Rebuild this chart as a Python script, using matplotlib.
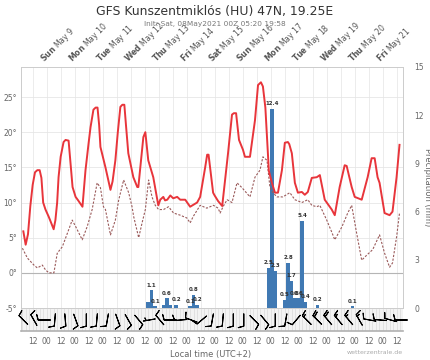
import numpy as np
import matplotlib
matplotlib.use("Agg")
import matplotlib.pyplot as plt
from matplotlib import transforms

# ---------------- data (hours since 2021-05-08 00:00 local, UTC+2) ----------------
temp_hours = [4, 6, 8, 10, 12, 14, 16, 18, 19.5, 21, 23, 25.7, 27.4, 30, 31.5, 33, 34.2, 36, 38.5,
              40.2, 42.8, 44.5, 46.2, 48.8, 51, 54.7, 57.3, 60, 61.6, 64.1, 66, 67.6, 69, 70.1,
              74.4, 78.7, 80.5, 82.9, 85, 87.2, 88.9, 90.6, 92, 94, 98.3, 101.7, 102.6, 106.9,
              108.6, 111.1, 115.4, 119.7, 121.4, 124, 125.5, 127.4, 130, 132.5, 135.9, 138.5,
              142.8, 147, 153, 155.6, 159.9, 161.6, 162.8, 166.7, 168, 171, 174.5, 179.5, 182.9,
              184.5, 186.4, 188.9, 192.3, 194, 198.3, 202.6, 205.2, 207.7, 209.4, 211.5, 213,
              214.5, 217.1, 219.7, 222.3, 225.7, 228.2, 230.8, 232, 234.2, 236.8, 239.4, 242.8,
              245.3, 247.9, 251.3, 255.6, 258.2, 262.4, 268.4, 271, 275.2, 279.5, 281.2, 285.5,
              288.1, 294.1, 299.2, 302.6, 305.2, 307.7, 309.4, 313.7, 318, 320.5, 324, 326.5]
temp_vals = [5.9, 4.0, 5.5, 9.5, 12.5, 14.3, 14.6, 14.6, 13.5, 10.0, 9.0, 8.0, 7.3, 6.2, 7.5, 10.0,
             13.6, 16.5, 18.6, 18.9, 18.8, 15.5, 12.2, 10.8, 10.3, 9.4, 14.6, 18.5, 20.7, 23.2,
             23.5, 23.5, 21.0, 17.9, 15.0, 11.8, 13.0, 16.0, 20.0, 23.6, 23.9, 23.9, 21.0, 17.0,
             13.6, 12.2, 12.2, 19.3, 20.0, 16.0, 13.6, 9.6, 10.4, 10.8, 10.3, 10.4, 11.0, 10.6,
             10.8, 10.4, 10.4, 9.4, 10.0, 10.8, 15.0, 16.8, 16.8, 11.4, 11.0, 10.2, 9.5, 17.0,
             22.5, 22.7, 22.7, 18.9, 17.5, 16.5, 16.5, 21.7, 26.7, 27.1, 26.5, 23.5, 19.0, 14.5,
             12.8, 11.4, 11.4, 14.6, 18.5, 18.6, 18.3, 17.0, 12.8, 11.4, 11.5, 11.1, 11.5, 13.5,
             13.6, 13.9, 10.4, 9.0, 8.2, 12.2, 15.3, 15.2, 12.2, 10.8, 10.4, 13.6, 16.3, 16.3,
             13.6, 12.8, 8.5, 8.2, 8.7, 13.6, 18.2]

dew_hours = [3.2, 7.5, 13.1, 16, 20.3, 23.1, 25.9, 30.2, 33.1, 37.4, 41.7, 45.9, 48.8, 54.5, 58.8,
             63, 67.3, 70.1, 72.7, 74.4, 78.7, 82.9, 85.8, 90, 94.3, 97.2, 98.6, 102.9, 105.8,
             108.6, 111.4, 114.3, 117.1, 120, 124.2, 128.5, 132.8, 138.5, 144.2, 147, 149.6,
             155.6, 161.3, 167, 171, 172.7, 175.2, 178.7, 182.9, 187.2, 191.5, 198.3, 202.6,
             206.9, 209.4, 212.9, 215.4, 218, 221.4, 226.5, 232.5, 236.8, 242.8, 247.9, 251.3,
             255.6, 258.2, 264.1, 268.4, 271, 277, 282.1, 285.5, 289.8, 294.1, 298.3, 303.5,
             309.4, 313.7, 318, 320.5, 324, 326.5]
dew_vals = [3.5, 2.1, 1.1, 0.7, 1.1, 0.4, 0.0, 0.0, 2.8, 3.7, 5.6, 7.5, 6.6, 4.7, 6.6, 9.0, 12.8,
            12.1, 9.4, 9.0, 5.4, 7.5, 10.4, 13.2, 11.4, 9.4, 8.0, 5.0, 7.1, 9.0, 13.2, 10.8, 9.6,
            9.0, 9.0, 9.4, 8.5, 8.2, 7.8, 7.1, 8.0, 9.6, 9.2, 9.6, 9.2, 8.5, 9.4, 10.4, 10.0,
            12.8, 12.1, 10.8, 13.6, 14.6, 16.5, 16.0, 12.2, 11.4, 10.8, 10.8, 11.4, 10.4, 10.0,
            10.4, 9.6, 9.4, 9.6, 7.5, 5.8, 4.7, 6.5, 8.5, 9.6, 5.6, 1.8, 2.5, 3.3, 5.4, 2.8, 0.8,
            1.4, 5.1, 8.5]

precip_hours = [111, 114, 117, 124, 127, 130, 135, 147, 150, 153, 214, 217, 220,
                228, 231, 234, 237, 240, 243, 246, 256, 286]
precip_vals = [0.4, 1.1, 0.1, 0.2, 0.6, 0.2, 0.2, 0.1, 0.8, 0.2, 2.5, 12.4, 2.3,
               0.5, 2.8, 1.7, 0.6, 0.6, 5.4, 0.4, 0.2, 0.1]
precip_labelled = [False, True, True, False, True, False, True, True, True, True, True, True, True,
                   True, True, True, True, True, True, True, True, True]

wind_hours = [4 + 9 * k for k in range(37)]
wind_dir = [315, 330, 270, 185, 175, 160, 180, 185, 190, 160, 150, 140, 260, 320, 270, 265, 290,
            230, 190, 185, 180, 180, 135, 140, 180, 190, 220, 315, 315, 320, 320, 320, 330, 280,
            275, 285, 270]
wind_spd = [10, 10, 10, 10, 10, 10, 10, 10, 10, 10, 10, 10, 5, 10, 10, 10, 10, 10, 10, 10, 10, 10,
            10, 10, 10, 10, 10, 15, 20, 20, 15, 15, 15, 10, 10, 10, 10]

day_hours = [24 * d for d in range(1, 14)]
day_names = ["Sun", "Mon", "Tue", "Wed", "Thu", "Fri", "Sat", "Sun", "Mon", "Tue", "Wed", "Thu", "Fri"]
day_dates = ["May 9", "May 10", "May 11", "May 12", "May 13", "May 14", "May 15", "May 16",
             "May 17", "May 18", "May 19", "May 20", "May 21"]
hour_ticks = [12 * k for k in range(1, 28)]
hour_labels = ["12" if k % 2 == 1 else "00" for k in range(1, 28)]

temp_ticks = [-5, 0, 5, 10, 15, 20, 25]
precip_ticks = [0, 3, 6, 9, 12, 15]

title = "GFS Kunszentmiklós (HU) 47N, 19.25E"
subtitle = "Init: Sat, 08May2021 00Z 05:20 19:58"

# ---------------- figure ----------------
W, H = 431, 360
fig = plt.figure(figsize=(W / 100, H / 100), dpi=100)
fig.patch.set_facecolor("white")

XLIM = (2, 329.5)
TLIM = (-5, 29.27)
PLIM = (0, 15)

axP = fig.add_axes([21 / W, (H - 308) / H, 382 / W, 241 / H])
axP.set_xlim(*XLIM)
axP.set_ylim(*PLIM)
axT = axP.twinx()
axT.set_xlim(*XLIM)
axT.set_ylim(*TLIM)

# grid (drawn in the bottom axes, in temperature units)
for h in hour_ticks:
    axP.axvline(h, color="#e9e9e9", lw=0.6, zorder=0)
for t in temp_ticks[2:]:
    axP.plot(XLIM, [t, t], transform=axT.transData, color="#e6e6e6", lw=0.6, zorder=0.5)
axP.plot(XLIM, [0, 0], transform=axT.transData, color="#b5b5b5", lw=0.8, zorder=0.6)

# precipitation bars
axP.bar(precip_hours, precip_vals, width=3.0, color="#4079b3", zorder=2, linewidth=0)
for h, v, lab in zip(precip_hours, precip_vals, precip_labelled):
    if lab:
        axP.annotate(f"{v}", (h, v), xytext=(0, 2), textcoords="offset points",
                     ha="center", va="bottom", fontsize=4, fontweight="bold", color="#333333")

# temperature lines
axT.plot(dew_hours, dew_vals, color="#9a5a5a", lw=0.8, dashes=(2, 1.4), zorder=3)
axT.plot(temp_hours, temp_vals, color="#e8353b", lw=1.4, zorder=4, solid_joinstyle="round")

# axes styling
for a in (axP, axT):
    for s in a.spines.values():
        s.set_color("#cccccc")
        s.set_linewidth(0.6)
    a.set_xticks([])
axT.yaxis.tick_left()
axT.set_yticks(temp_ticks)
axT.set_yticklabels([f"{t}°" for t in temp_ticks])
axT.tick_params(axis="y", length=0, pad=3, labelsize=5.5, labelcolor="#666666")
axP.yaxis.tick_right()
axP.yaxis.set_label_position("right")
axP.set_yticks(precip_ticks)
axP.tick_params(axis="y", length=0, pad=8, labelsize=5.5, labelcolor="#666666")
axP.set_ylabel("Precipitation (mm)", rotation=270, labelpad=6, fontsize=6, color="#666666")

# day labels on top
for h, n, d in zip(day_hours, day_names, day_dates):
    axT.annotate(r"$\mathbf{" + n + "}$ " + d, (h, 1.0), xycoords=("data", "axes fraction"),
                 xytext=(0.5, 1.5), textcoords="offset points", rotation=45,
                 rotation_mode="anchor", ha="left", va="bottom", fontsize=5.6, color="#555555")

# wind strip
axW = fig.add_axes([21 / W, (H - 331) / H, 382 / W, 22 / H])
axW.set_xlim(*XLIM)
axW.set_ylim(0, 1)
axW.set_facecolor("#f3f3f3")
for h in range(3, 330, 3):
    axW.axvline(h, color="#dadada", lw=0.5, zorder=0)
for k, s in axW.spines.items():
    s.set_visible(k in ("left", "bottom"))
axW.spines["left"].set_color("#cccccc")
axW.spines["left"].set_linewidth(0.6)
axW.spines["bottom"].set_color("#b0b0b0")
axW.spines["bottom"].set_linewidth(1.2)
axW.set_xticks([])
axW.set_yticks([])
wd = np.radians(np.array(wind_dir, dtype=float))
ws = np.array(wind_spd, dtype=float)
u = -ws * np.sin(wd)
v = -ws * np.cos(wd)
bb = axW.barbs(wind_hours, [0.5] * len(wind_hours), u, v, length=4.2, pivot="middle",
               linewidth=0.75, color="black", zorder=3,
               sizes=dict(spacing=0.16, height=0.45, width=0.25))
bb.set_clip_on(False)

# bottom hour labels
btr = transforms.blended_transform_factory(axW.transData, fig.transFigure)
for h, lab in zip(hour_ticks, hour_labels):
    fig.text(h, (H - 341) / H, lab, transform=btr, ha="center", va="center",
             fontsize=5.5, color="#666666")

fig.text(211 / W, (H - 355) / H, "Local time (UTC+2)", ha="center", va="center",
         fontsize=6, color="#666666")
fig.text(403 / W, (H - 353) / H, "wetterzentrale.de", ha="right", va="center",
         fontsize=4.5, color="#aaaaaa")

fig.text(215 / W, (H - 12) / H, title, ha="center", va="center", fontsize=8.9, color="#333333")
fig.text(215 / W, (H - 24) / H, subtitle, ha="center", va="center", fontsize=5.3, color="#777777")

fig.savefig("out.png", dpi=100)
